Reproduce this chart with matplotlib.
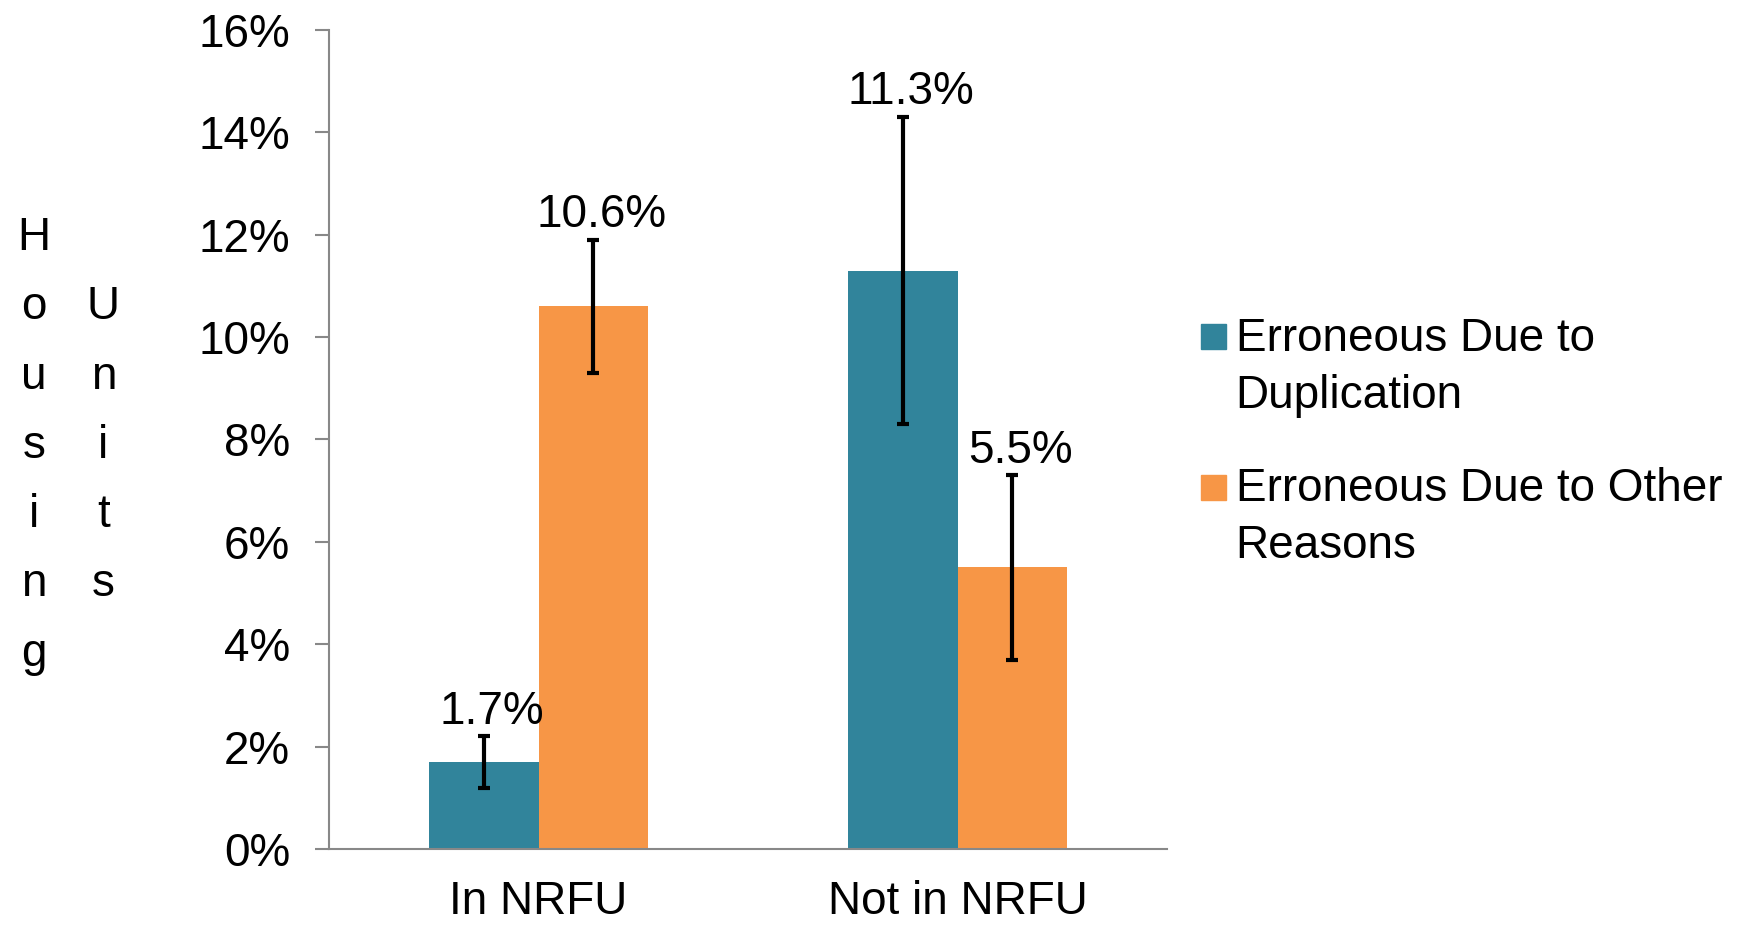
import matplotlib.pyplot as plt
import numpy as np
from matplotlib.patches import Rectangle
from matplotlib.ticker import PercentFormatter

categories = ['In NRFU', 'Not in NRFU']
series = ['Erroneous Due to\nDuplication', 'Erroneous Due to Other\nReasons']
duplication = [1.7, 11.3]
other = [10.6, 5.5]
duplication_err = [0.5, 3.0]
other_err = [1.3, 1.8]
colors = ['#31849B', '#F79646']

plt.rcParams['font.family'] = ['Liberation Sans', 'DejaVu Sans']
FS = 33


def main():
    fig = plt.figure(figsize=(17.63, 9.25), dpi=100)
    ax = fig.add_axes([0.1866, 0.0822, 0.4754, 0.8854])

    x = np.arange(len(categories))
    w = 0.262
    for vals, errs, off, c in [(duplication, duplication_err, -w / 2, colors[0]),
                               (other, other_err, w / 2, colors[1])]:
        ax.bar(x + off, vals, w, color=c, zorder=2)
        ax.errorbar(x + off, vals, yerr=errs, fmt='none', ecolor='black',
                    elinewidth=3, capsize=4.5, capthick=3, zorder=3)
        for xi, v, e in zip(x + off, vals, errs):
            ax.annotate(f'{v:.1f}%', (xi, v + e), xytext=(6, 2),
                        textcoords='offset points', ha='center', va='bottom',
                        fontsize=FS)

    ax.set_xlim(-0.5, 1.5)
    ax.set_ylim(0, 16)
    ax.set_yticks(np.arange(0, 17, 2))
    ax.yaxis.set_major_formatter(PercentFormatter(decimals=0))
    ax.set_xticks(x)
    ax.set_xticklabels(categories)
    ax.tick_params(axis='x', length=0, pad=22, labelsize=FS)
    ax.tick_params(axis='y', length=10, width=1.5, color='#888888', pad=18,
                   labelsize=FS)
    for s in ['top', 'right']:
        ax.spines[s].set_visible(False)
    for s in ['left', 'bottom']:
        ax.spines[s].set_color('#888888')
        ax.spines[s].set_linewidth(1.5)

    # stacked y label
    fig.text(0.0191, 0.518, '\n'.join('Housing'), ha='center', va='center',
             fontsize=FS, linespacing=1.744)
    fig.text(0.0586, 0.518, '\n'.join('Units'), ha='center', va='center',
             fontsize=FS, linespacing=1.744)

    # legend
    sq_w, sq_h = 25 / 1763, 25 / 925
    for yc, yt, c, lab in [(0.6357, 0.6568, colors[0], series[0]),
                           (0.4735, 0.4946, colors[1], series[1])]:
        fig.patches.append(Rectangle((0.681, yc - sq_h / 2), sq_w, sq_h,
                                     color=c, transform=fig.transFigure))
        fig.text(0.7008, yt, lab, ha='left', va='top', fontsize=FS,
                 linespacing=1.38)

    fig.savefig('out.png', dpi=100)


if __name__ == '__main__':
    main()
